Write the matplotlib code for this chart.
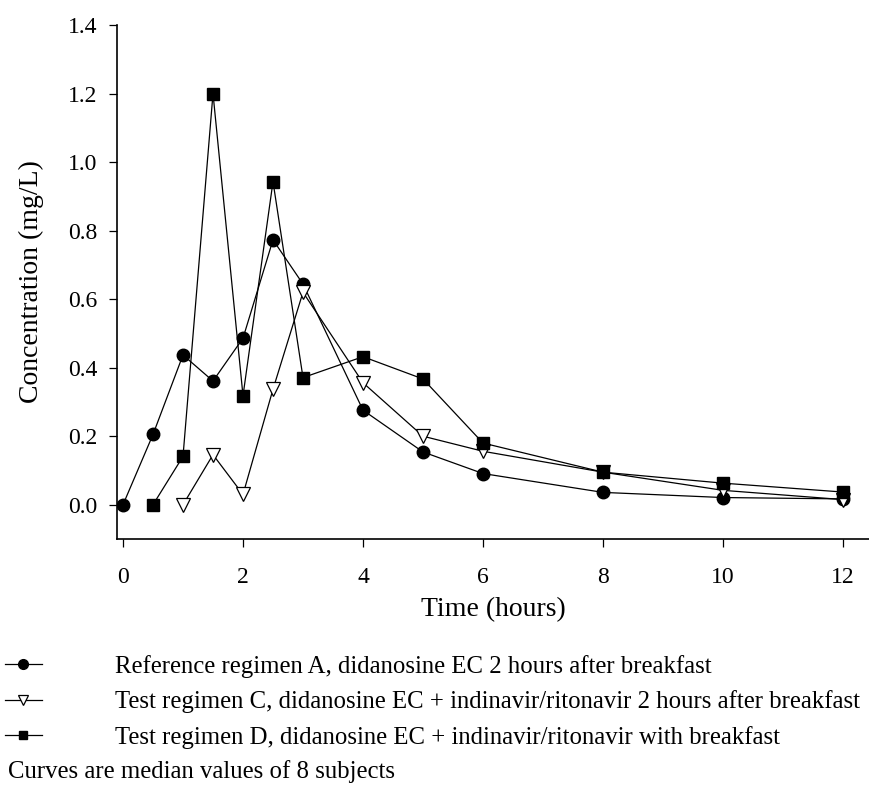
import matplotlib
matplotlib.use("Agg")
import matplotlib.pyplot as plt
from matplotlib.lines import Line2D

plt.rcParams['font.family'] = ['Liberation Serif', 'DejaVu Serif']

time_a = [0, 0.5, 1, 1.5, 2, 2.5, 3, 4, 5, 6, 8, 10, 12]
conc_a = [0.0, 0.205, 0.437, 0.361, 0.486, 0.773, 0.644, 0.276, 0.154, 0.091, 0.036, 0.021, 0.017]

time_c = [1, 1.5, 2, 2.5, 3, 4, 5, 6, 8, 10, 12]
conc_c = [0.0, 0.146, 0.030, 0.337, 0.620, 0.356, 0.200, 0.156, 0.095, 0.042, 0.015]

time_d = [0.5, 1, 1.5, 2, 2.5, 3, 4, 5, 6, 8, 10, 12]
conc_d = [0.0, 0.141, 1.200, 0.318, 0.943, 0.371, 0.432, 0.367, 0.180, 0.095, 0.063, 0.037]

labels = [
    "Reference regimen A, didanosine EC 2 hours after breakfast",
    "Test regimen C, didanosine EC + indinavir/ritonavir 2 hours after breakfast",
    "Test regimen D, didanosine EC + indinavir/ritonavir with breakfast",
]
note = "Curves are median values of 8 subjects"
x_ticks = [0, 2, 4, 6, 8, 10, 12]
y_ticks = [0.0, 0.2, 0.4, 0.6, 0.8, 1.0, 1.2, 1.4]

fig = plt.figure(figsize=(8.70, 7.89), dpi=100)
ax = fig.add_axes([117/870, 1-539/789, (870-117)/870, (539-25)/789])

lw = 0.9
ax.plot(time_a, conc_a, color='black', lw=lw, marker='o', ms=9, mfc='black', mec='black', zorder=3)
ax.plot(time_c, conc_c, color='black', lw=lw, marker='v', ms=10, mfc='white', mec='black', mew=0.9, zorder=4)
ax.plot(time_d, conc_d, color='black', lw=lw, marker='s', ms=8, mfc='black', mec='black', zorder=5)

ax.set_xlim(-0.1, 12.45)
ax.set_ylim(-0.1, 1.4)
ax.set_xticks(x_ticks)
ax.set_yticks(y_ticks)
ax.set_xticklabels([str(t) for t in x_ticks])
ax.set_yticklabels([f"{t:.1f}" for t in y_ticks])
for s in ['top', 'right']:
    ax.spines[s].set_visible(False)
for s in ['left', 'bottom']:
    ax.spines[s].set_linewidth(1.2)
ax.tick_params(direction='out', length=6, width=0.9, labelsize=17, colors='black')
ax.tick_params(axis='y', pad=8)
ax.tick_params(axis='x', pad=14)
ax.set_xlabel("Time (hours)", fontsize=20, labelpad=7)
ax.set_ylabel("Concentration (mg/L)", fontsize=20, labelpad=17)

fs = 17.8
handles = [
    Line2D([], [], color='black', lw=lw, marker='o', ms=7, mfc='black', mec='black'),
    Line2D([], [], color='black', lw=lw, marker='v', ms=7, mfc='white', mec='black', mew=0.9),
    Line2D([], [], color='black', lw=lw, marker='s', ms=6, mfc='black', mec='black'),
]
fig.legend(handles, labels, loc='upper left', bbox_to_anchor=(0.0, 1-650/789),
           frameon=False, fontsize=fs, handlelength=1.5, handletextpad=2.95,
           labelspacing=0.5, borderaxespad=0, borderpad=0.2)
fig.text(8/870, 1-772/789, note, fontsize=fs, va='center', ha='left')

fig.savefig("out.png", dpi=100)
